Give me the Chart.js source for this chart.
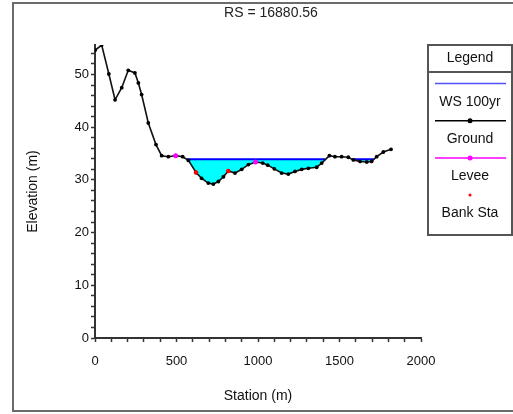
<!DOCTYPE html>
<html>
<head>
<meta charset="utf-8">
<script src="https://cdn.jsdelivr.net/npm/chart.js@4.4.0/dist/chart.umd.min.js"></script>
<style>
html,body{margin:0;padding:0;background:#fff;}
#wrap{position:relative;width:513px;height:414px;overflow:hidden;}
#frame{position:absolute;left:12px;top:2px;width:520px;height:410px;border:2px solid #6b6b6b;box-sizing:border-box;pointer-events:none;}
canvas{position:absolute;left:0;top:0;}
</style>
</head>
<body>
<div id="wrap"><canvas id="chart" width="513" height="414"></canvas><div id="frame"></div></div>
<script>
const groundSta = [0,41,85,123,164,204,245,266,286,327,374,409,450,495,538,573,620,654,695,726,757,788,818,859,900,941,985,1029,1060,1100,1145,1186,1227,1268,1309,1360,1391,1438,1472,1513,1554,1585,1626,1667,1697,1728,1769,1816];
const groundElev = [54.6,55.6,50.1,45.2,47.5,50.8,50.3,48.4,46.2,40.8,36.7,34.6,34.4,34.6,34.4,33.7,31.4,30.3,29.4,29.2,29.7,30.6,31.7,31.3,32.0,32.9,33.4,33.2,32.8,32.1,31.3,31.1,31.6,32.0,32.2,32.4,33.2,34.6,34.4,34.4,34.3,33.8,33.5,33.4,33.5,34.4,35.3,35.8];
const wsSta = [563,1414,1500,1579,1711];
const wsElev = [33.9,33.9,null,33.9,33.9];
const leveeSta = [495,985];
const leveeElev = [34.6,33.4];
const bankSta = [620,818];
const bankElev = [31.4,31.7];
const legendNames = ['WS 100yr','Ground','Levee','Bank Sta'];
const chartTitle = 'RS = 16880.56';

const FONT = '"Liberation Sans", Arial, sans-serif';
const pts = (xs, ys) => xs.map((x,i)=>({x, y: ys[i]}));

// title centred in the frame, not over the plot
const frameTitle = {
  id: 'frameTitle',
  afterDraw(chart){
    const {ctx} = chart;
    ctx.save();
    ctx.font = '14px ' + FONT;
    ctx.fillStyle = '#222';
    ctx.textAlign = 'center';
    ctx.textBaseline = 'middle';
    ctx.fillText(chartTitle, 271, 13);
    ctx.restore();
  }
};

// HEC-RAS style legend: symbol row, label under it
const legendBox = {
  id: 'legendBox',
  afterDraw(chart){
    const {ctx, chartArea} = chart;
    const left = chartArea.right + 7, top = chartArea.top, w = 84, h = 190;
    ctx.save();
    ctx.fillStyle = '#fff';
    ctx.fillRect(left, top, w, h);
    ctx.strokeStyle = '#555';
    ctx.lineWidth = 2;
    ctx.strokeRect(left, top, w, h);
    ctx.beginPath();
    ctx.moveTo(left, top + 27);
    ctx.lineTo(left + w, top + 27);
    ctx.stroke();
    ctx.font = '14px ' + FONT;
    ctx.textAlign = 'center';
    ctx.textBaseline = 'middle';
    ctx.fillStyle = '#111';
    const cx = left + w/2;
    ctx.fillText('Legend', cx, top + 13);
    const styles = [
      {line:'#5050ff', dot:null},
      {line:'#000', dot:'#000'},
      {line:'#ff00ff', dot:'#ff00ff'},
      {line:null, dot:'#ff0000'}
    ];
    legendNames.forEach((name, i)=>{
      const ly = top + 38.5 + i*37.2;
      const s = styles[i];
      if(s.line){
        ctx.strokeStyle = s.line;
        ctx.lineWidth = 1.5;
        ctx.beginPath();
        ctx.moveTo(left + 7, ly);
        ctx.lineTo(left + 78, ly);
        ctx.stroke();
      }
      if(s.dot){
        ctx.fillStyle = s.dot;
        ctx.beginPath();
        ctx.arc(cx, ly, s.line ? 2.5 : 1.5, 0, Math.PI*2);
        ctx.fill();
      }
      ctx.fillStyle = '#111';
      ctx.fillText(name, cx, ly + 18.5);
    });
    ctx.restore();
  }
};

new Chart(document.getElementById('chart'), {
  type: 'scatter',
  data: {
    datasets: [
      {label:'Levee', data: pts(leveeSta, leveeElev), showLine:false, pointRadius:2.5, pointBackgroundColor:'#ff00ff', pointBorderWidth:0},
      {label:'Bank Sta', data: pts(bankSta, bankElev), showLine:false, pointRadius:2.2, pointBackgroundColor:'#ff0000', pointBorderWidth:0},
      {label:'Ground', data: pts(groundSta, groundElev), showLine:true, borderColor:'#111', borderWidth:1.6,
       pointStyle:'circle', pointRadius:1.9, pointBackgroundColor:'#000', pointBorderWidth:0, tension:0},
      {label:'WS 100yr', data: pts(wsSta, wsElev), showLine:true, borderColor:'#0000ff', borderWidth:2, pointRadius:0,
       spanGaps:false, fill:{target:2, above:'#00ffff', below:'rgba(0,0,0,0)'}}
    ]
  },
  options: {
    responsive:false,
    animation:false,
    devicePixelRatio:1,
    layout:{padding:{left:14, right:92, top:45, bottom:6}},
    plugins:{
      legend:{display:false},
      tooltip:{enabled:false},
      title:{display:false}
    },
    scales:{
      x:{
        type:'linear', min:0, max:2000,
        afterFit(s){ s.height = 70; },
        border:{color:'#333', width:2},
        grid:{drawOnChartArea:false, tickLength:4, tickColor:'#333', tickWidth:1.5},
        ticks:{stepSize:100, autoSkip:false, maxRotation:0, padding:12, color:'#111', font:{family:FONT, size:13},
               callback:v => v % 500 === 0 ? v : ''},
        title:{display:true, text:'Station (m)', color:'#111', font:{family:FONT, size:14}, padding:{top:0, bottom:3}}
      },
      y:{
        min:0, max:55.6,
        afterFit(s){ s.width = 81; },
        border:{color:'#333', width:2},
        grid:{drawOnChartArea:false, tickLength:4, tickColor:'#333', tickWidth:1.5},
        ticks:{stepSize:2, includeBounds:false, autoSkip:false, padding:2, color:'#111', font:{family:FONT, size:13},
               callback:v => Math.abs(v % 10) < 1e-6 ? v : ''},
        title:{display:true, text:'Elevation (m)', color:'#111', font:{family:FONT, size:14}, padding:{top:11, bottom:0}}
      }
    }
  },
  plugins:[frameTitle, legendBox]
});
</script>
</body>
</html>
